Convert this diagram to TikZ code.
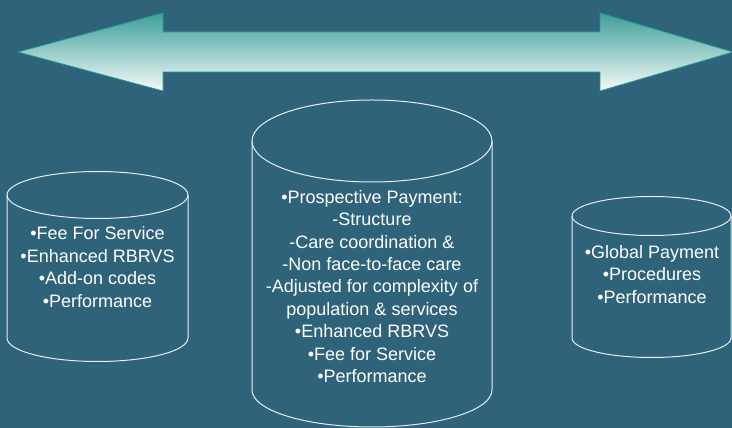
\documentclass[tikz,border=0pt]{standalone}
\usepackage{fontspec}
\setmainfont{Liberation Sans}
\usetikzlibrary{positioning}

\definecolor{slate}{HTML}{2E6379}
\definecolor{tealedge}{HTML}{1E9C97}
\definecolor{tealtop}{HTML}{3E9F99}
\definecolor{palebottom}{HTML}{F6FAF9}
\definecolor{rim}{HTML}{E6EEF0}

\begin{document}
\begin{tikzpicture}[x=1pt, y=1pt,
    barrel/.style={draw=rim, line width=1pt},
    label/.style={text=white, align=center, font=\fontsize{18}{22.4}\selectfont},
    bigarrow/.style={draw=tealedge, line width=0.8pt, top color=tealtop, bottom color=palebottom}
]

% Background
\fill[slate] (0,0) rectangle (732,428);
\useasboundingbox (0,0) rectangle (732,428);

% Double arrow across the top
\path[bigarrow] (18,376) -- (163,415) -- (163,396) -- (600,396) -- (600,415)
    -- (733,376) -- (600,337) -- (600,356) -- (163,356) -- (163,337) -- cycle;

% Left cylinder
\draw[barrel] (97.5,233) ellipse [x radius=90.5, y radius=23.5];
\draw[barrel] (7,233) -- (7,90) arc[start angle=180, end angle=360, x radius=90.5, y radius=23.5] -- (188,233);
\node[label] (feeservice) at (97.5,161) {•Fee For Service\\•Enhanced RBRVS\\•Add-on codes\\•Performance};

% Middle cylinder
\draw[barrel] (372,287) ellipse [x radius=120, y radius=41];
\draw[barrel] (252,287) -- (252,38) arc[start angle=180, end angle=360, x radius=120, y radius=37] -- (492,287);
\node[label] (prospective) at (372,141.5) {•Prospective Payment:\\-Structure\\-Care coordination \&\\-Non face-to-face care\\-Adjusted for complexity of\\population \& services\\•Enhanced RBRVS\\•Fee for Service\\•Performance};

% Right cylinder
\draw[barrel] (651.5,212) ellipse [x radius=79.5, y radius=19.5];
\draw[barrel] (572,212) -- (572,90) arc[start angle=180, end angle=360, x radius=79.5, y radius=19.5] -- (731,212);
\node[label] (global) at (652,153.5) {•Global Payment\\•Procedures\\•Performance};

\end{tikzpicture}
\end{document}
